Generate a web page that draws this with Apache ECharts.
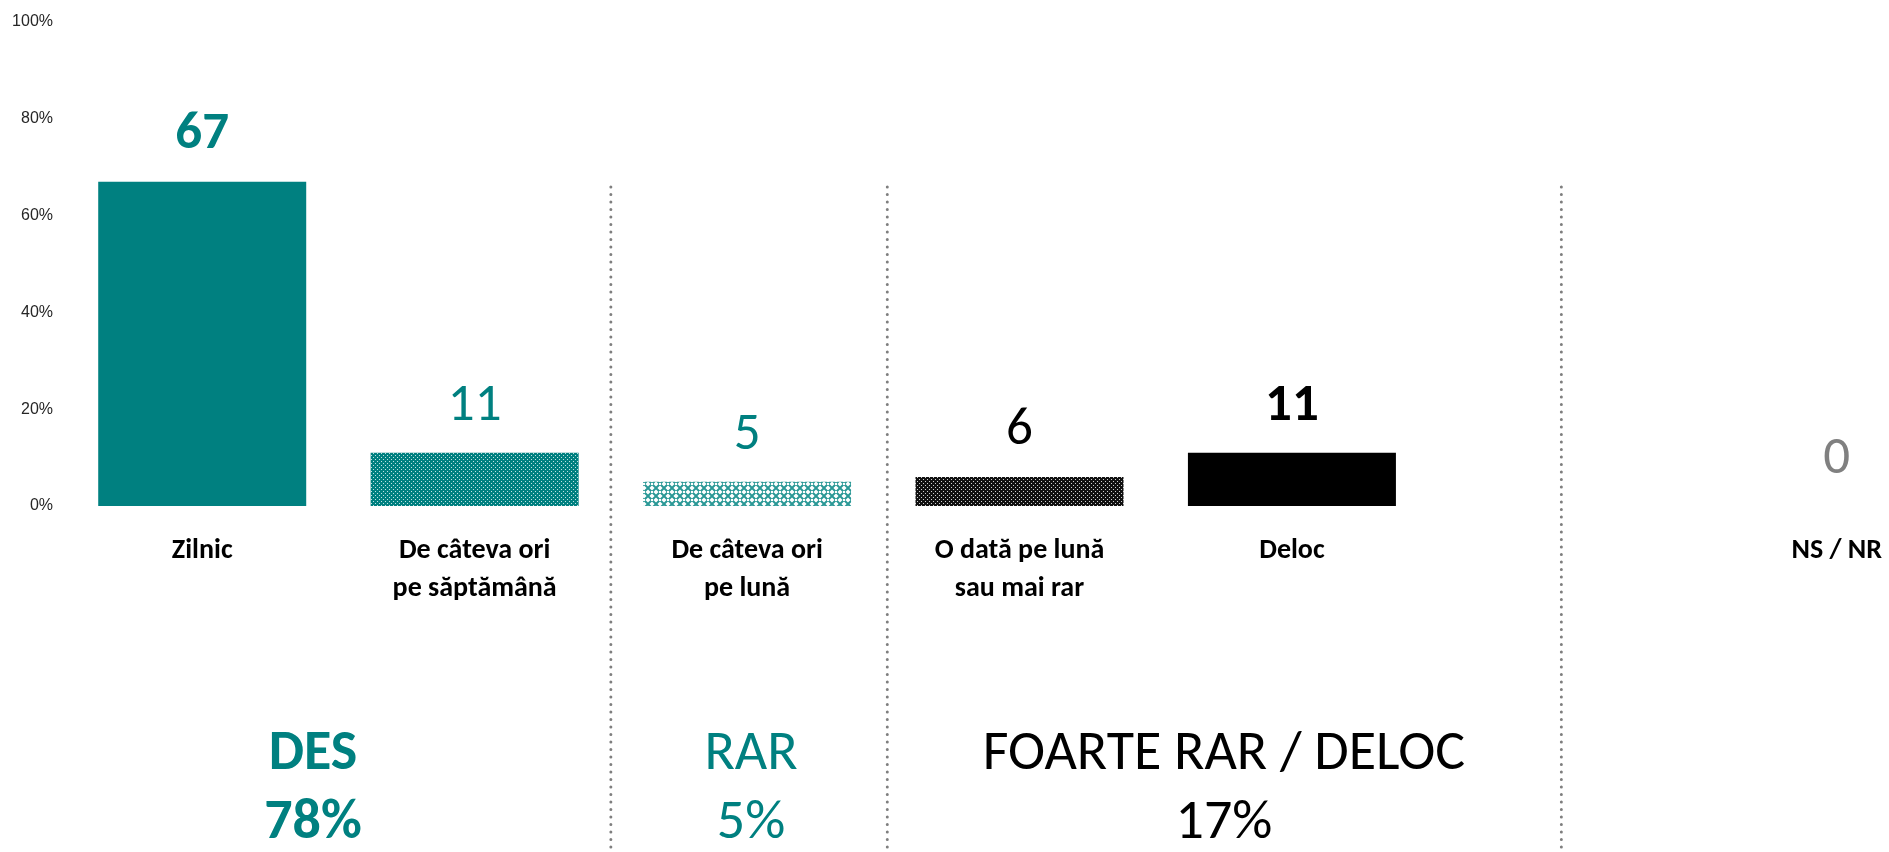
<!DOCTYPE html>
<html>
<head>
<meta charset="utf-8">
<script src="https://cdn.jsdelivr.net/npm/echarts@6/dist/echarts.min.js"></script>
<style>
  html, body { margin: 0; padding: 0; background: #fff; }
  #chart { width: 1889px; height: 852px; }
</style>
</head>
<body>
<div id="chart"></div>
<script>
// date
var categories = ['Zilnic', 'De câteva ori\npe săptămână', 'De câteva ori\npe lună', 'O dată pe lună\nsau mai rar', 'Deloc', '', 'NS / NR'];
var values = [67, 11, 5, 6, 11, null, 0];
var yTicks = [0, 20, 40, 60, 80, 100];
var groupNames = ['DES', 'RAR', 'FOARTE RAR / DELOC'];
var groupTotals = ['78%', '5%', '17%'];

var TEAL = '#008080';
var FONT = 'Carlito, Calibri, Lato, sans-serif';

// modele de hasura pentru bare
function patternDots(bg, dot) {
    var c = document.createElement('canvas');
    c.width = 4; c.height = 4;
    var ctx = c.getContext('2d');
    ctx.fillStyle = bg;
    ctx.fillRect(0, 0, 4, 4);
    ctx.fillStyle = dot;
    ctx.fillRect(1, 1, 1, 1);
    ctx.fillRect(3, 3, 1, 1);
    return c;
}
function patternLattice() {
    var c = document.createElement('canvas');
    c.width = 8; c.height = 8;
    var ctx = c.getContext('2d');
    ctx.fillStyle = '#ffffff';
    ctx.fillRect(0, 0, 8, 8);
    ctx.strokeStyle = '#2a9896';
    ctx.lineWidth = 2;
    ctx.beginPath();
    ctx.moveTo(0, 0); ctx.lineTo(8, 8);
    ctx.moveTo(8, 0); ctx.lineTo(0, 8);
    ctx.stroke();
    ctx.fillStyle = '#ffffff';
    ctx.fillRect(3, 3, 2, 2);
    return c;
}

var fills = [
    TEAL,
    { image: patternDots(TEAL, '#bfe3e3'), repeat: 'repeat' },
    { image: patternLattice(), repeat: 'repeat' },
    { image: patternDots('#111111', '#d0d0d0'), repeat: 'repeat' },
    '#000000',
    'transparent',
    '#808080'
];
var labelColors = [TEAL, TEAL, TEAL, '#000000', '#000000', '#000000', '#808080'];
var labelWeights = ['bold', 'normal', 'normal', 'normal', 'bold', 'normal', 'normal'];

var seriesData = [];
for (var i = 0; i < values.length; i++) {
    seriesData.push({
        value: values[i],
        itemStyle: { color: fills[i] },
        label: { color: labelColors[i], fontWeight: labelWeights[i] }
    });
}

var myChart = echarts.init(document.getElementById('chart'));
var option = {
    animation: false,
    backgroundColor: '#ffffff',
    grid: {
        left: 66,
        top: 22,
        width: 1907,
        bottom: 346,
        containLabel: false,
        outerBoundsMode: 'none'
    },
    xAxis: {
        type: 'category',
        data: categories,
        axisLine: { show: false },
        axisTick: { show: false },
        axisLabel: {
            interval: 0,
            color: '#000',
            fontFamily: FONT,
            fontWeight: 'bold',
            fontSize: 28,
            lineHeight: 38,
            margin: 26
        }
    },
    yAxis: {
        type: 'value',
        min: 0,
        max: 100,
        interval: 20,
        splitLine: { show: false },
        axisLine: { show: false },
        axisTick: { show: false },
        axisLabel: {
            color: '#262626',
            fontFamily: 'Liberation Sans, Arial, sans-serif',
            fontSize: 16,
            margin: 13,
            formatter: '{value}%'
        }
    },
    series: [{
        type: 'bar',
        barWidth: 208,
        data: seriesData,
        label: {
            show: true,
            position: 'top',
            distance: 20,
            fontFamily: FONT,
            fontSize: 53
        }
    }]
};
myChart.setOption(option);

// separatoare si textele de grup
var px = function(i) { return myChart.convertToPixel({ xAxisIndex: 0 }, i); };
var sepX = [(px(1) + px(2)) / 2, (px(2) + px(3)) / 2 + 4, px(5) - 3];
var graphics = [];
for (var s = 0; s < sepX.length; s++) {
    graphics.push({
        type: 'line',
        shape: { x1: sepX[s], y1: 187, x2: sepX[s], y2: 852 },
        style: { stroke: '#7f7f7f', lineWidth: 3, lineDash: [0.1, 7.4], lineCap: 'round' },
        silent: true
    });
}
var groupX = [313, 751, 1224];
var groupColors = [TEAL, TEAL, '#000000'];
var groupWeights = ['bold', 'normal', 'normal'];
for (var g = 0; g < groupNames.length; g++) {
    graphics.push({
        type: 'text',
        x: groupX[g], y: 755,
        style: {
            text: groupNames[g], fill: groupColors[g], fontFamily: FONT,
            fontSize: 56, fontWeight: groupWeights[g], align: 'center', verticalAlign: 'middle'
        }
    });
    graphics.push({
        type: 'text',
        x: groupX[g], y: 824,
        style: {
            text: groupTotals[g], fill: groupColors[g], fontFamily: FONT,
            fontSize: 56, fontWeight: groupWeights[g], align: 'center', verticalAlign: 'middle'
        }
    });
}
myChart.setOption({ graphic: graphics });
</script>
</body>
</html>
